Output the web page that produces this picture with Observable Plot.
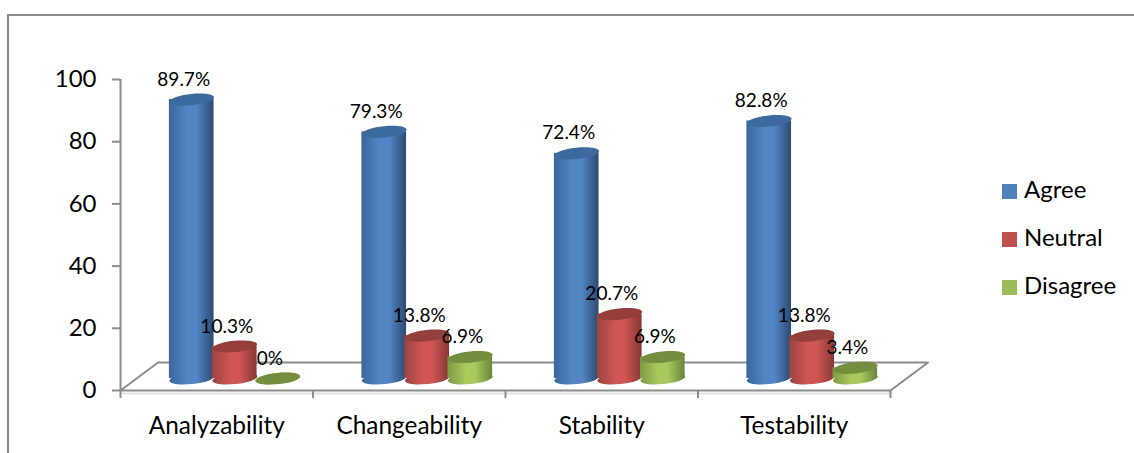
<!DOCTYPE html>
<html>
<head>
<meta charset="utf-8">
<script src="https://cdn.jsdelivr.net/npm/d3@7"></script>
<script src="https://cdn.jsdelivr.net/npm/@observablehq/plot@0.6"></script>
<style>
  html, body { margin: 0; padding: 0; background: #fff; }
  #chart { position: relative; width: 1134px; height: 453px; overflow: hidden; font-family: Lato, sans-serif; color: #000; }
  #frame { position: absolute; left: 7px; top: 14px; right: 0; bottom: 0; border-left: 2px solid #8a8a8a; border-top: 2px solid #8a8a8a; }
  #legend { position: absolute; left: 1002px; top: 165px; font-size: 24px; }
  #legend div { height: 48px; line-height: 48px; white-space: nowrap; }
  #legend i { display: inline-block; width: 15px; height: 15px; margin-right: 7px; vertical-align: -1px; }
</style>
</head>
<body>
<div id="chart"><div id="frame"></div></div>
<script>
const categories = ["Analyzability", "Changeability", "Stability", "Testability"];
const agree = [89.7, 79.3, 72.4, 82.8];
const neutral = [10.3, 13.8, 20.7, 13.8];
const disagree = [0, 6.9, 6.9, 3.4];
const seriesNames = ["Agree", "Neutral", "Disagree"];
const seriesValues = [agree, neutral, disagree];
const palette = [
  {id: "agree", edgeL: "#3a679c", mid: "#5285c6", edgeR: "#2c4a70", top: "#3c6a9e", key: "#4f81bd"},
  {id: "neutral", edgeL: "#9c4441", mid: "#cf5653", edgeR: "#863735", top: "#943f3c", key: "#c0504d"},
  {id: "disagree", edgeL: "#7d9a44", mid: "#a7c95d", edgeR: "#6b853a", top: "#748e40", key: "#9bbb59"}
];

// Oblique projection of the chart's floor, in data units.
const depthX = 0.195, depthY = 9;
const floor = [[0, 0], [4, 0], [4 + depthX, depthY], [depthX, depthY], [0, 0]];
const groupSpread = 0.2235, barWidth = 0.232;
const axisGrey = "#8c8c8c";

// Tilted ellipse used for the cylinder caps and bases.
const capSymbol = {
  draw(ctx, size) {
    const a = Math.sqrt(size / Math.PI), b = a * 0.25, t = -6 * Math.PI / 180, k = 0.5523;
    const p = (u, v) => [u * a * Math.cos(t) - v * b * Math.sin(t), u * a * Math.sin(t) + v * b * Math.cos(t)];
    ctx.moveTo(...p(1, 0));
    ctx.bezierCurveTo(...p(1, k), ...p(k, 1), ...p(0, 1));
    ctx.bezierCurveTo(...p(-k, 1), ...p(-1, k), ...p(-1, 0));
    ctx.bezierCurveTo(...p(-1, -k), ...p(-k, -1), ...p(0, -1));
    ctx.bezierCurveTo(...p(k, -1), ...p(1, -k), ...p(1, 0));
    ctx.closePath();
  }
};

const gradients = () => {
  const defs = d3.create("svg:defs");
  for (const c of palette) {
    const g = defs.append("linearGradient").attr("id", "body-" + c.id);
    g.append("stop").attr("offset", "0%").attr("stop-color", c.edgeL);
    g.append("stop").attr("offset", "40%").attr("stop-color", c.mid);
    g.append("stop").attr("offset", "62%").attr("stop-color", c.mid);
    g.append("stop").attr("offset", "100%").attr("stop-color", c.edgeR);
  }
  return defs.node();
};

const seriesMarks = (values, s) => {
  const rows = categories.map((category, i) => ({
    category,
    value: values[i],
    center: i + 0.5 + (s - 1) * groupSpread
  }));
  const c = palette[s];
  const shift = {dx: 18, dy: -12};
  return [
    Plot.dot(rows, {x: "center", y: () => 0, r: 22.5, symbol: capSymbol, fill: `url(#body-${c.id})`, ...shift}),
    Plot.rect(rows, {
      x1: (d) => d.center - barWidth / 2,
      x2: (d) => d.center + barWidth / 2,
      y1: () => 0,
      y2: "value",
      fill: `url(#body-${c.id})`,
      ...shift
    }),
    Plot.dot(rows, {x: "center", y: "value", r: 22.5, symbol: capSymbol, fill: c.top, ...shift})
  ];
};

const labelMarks = (values, s) => Plot.text(
  categories.map((category, i) => ({value: values[i], center: i + 0.5 + (s - 1) * groupSpread})),
  {
    x: "center",
    y: "value",
    text: (d) => `${d.value}%`,
    fontSize: 19,
    fill: "#000",
    dx: 10,
    dy: -32
  }
);

const chart = Plot.plot({
  width: 1134,
  height: 453,
  marginLeft: 120,
  marginRight: 244,
  marginTop: 79,
  marginBottom: 63,
  style: {fontFamily: "Lato, sans-serif", background: "transparent", overflow: "visible"},
  x: {domain: [0, 4], axis: null},
  y: {domain: [0, 100], axis: null},
  marks: [
    gradients,
    Plot.ruleY([0], {stroke: "#e2e2e2", strokeWidth: 2, dy: 3}),
    Plot.line(floor, {x: "0", y: "1", stroke: axisGrey, strokeWidth: 2}),
    Plot.ruleX([0], {y1: 0, y2: 100, stroke: axisGrey, strokeWidth: 2}),
    Plot.axisY({
      ticks: d3.range(0, 101, 20),
      tickSize: 8,
      tickPadding: 16,
      fontSize: 24,
      stroke: axisGrey,
      strokeWidth: 2,
      fill: "#000"
    }),
    Plot.axisX({
      ticks: d3.range(0, 5),
      tickSize: 8,
      tickFormat: () => null,
      stroke: axisGrey,
      strokeWidth: 2
    }),
    Plot.axisX({
      ticks: categories.map((_, i) => i + 0.5),
      tickSize: 0,
      tickPadding: 26,
      tickFormat: (d) => categories[d - 0.5],
      fontSize: 24.4,
      fill: "#000"
    }),
    ...seriesValues.flatMap(seriesMarks),
    ...seriesValues.map(labelMarks)
  ]
});

const root = document.getElementById("chart");
root.prepend(chart);
chart.style.position = "absolute";
chart.style.left = "0";
chart.style.top = "0";

const legend = document.createElement("div");
legend.id = "legend";
seriesNames.forEach((name, s) => {
  const row = document.createElement("div");
  const swatch = document.createElement("i");
  swatch.style.background = palette[s].key;
  row.append(swatch, name);
  legend.append(row);
});
root.append(legend);
</script>
</body>
</html>
